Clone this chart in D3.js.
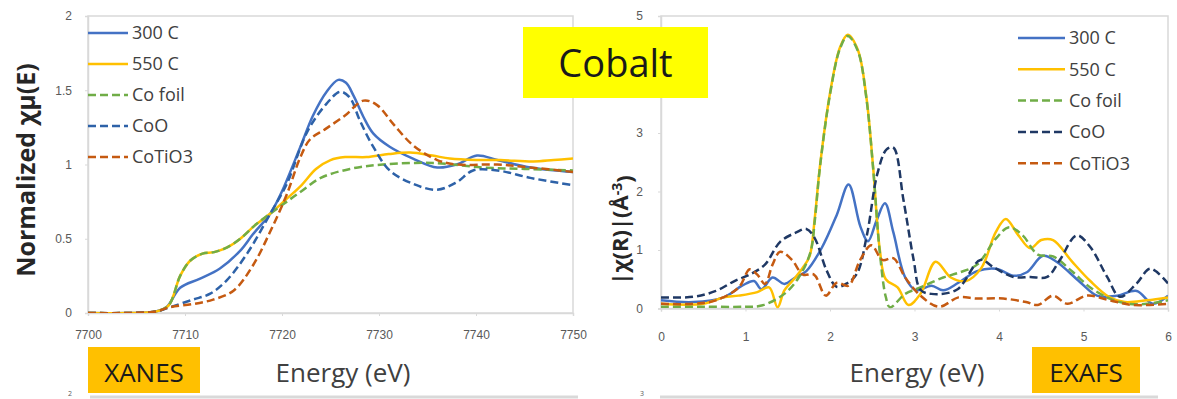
<!DOCTYPE html>
<html>
<head>
<meta charset="utf-8">
<script src="https://cdn.jsdelivr.net/npm/d3@7"></script>
<style>
  body { margin: 0; background: #fff; }
  svg { display: block; font-family: "Open Sans", sans-serif; }
</style>
</head>
<body>
<svg id="chart" width="1177" height="399"></svg>
<script>

// Series names, shared by both panels

var seriesNames = ["300 C", "550 C", "Co foil", "CoO", "CoTiO3"];

// XANES: normalized absorption vs energy (eV)

var xanes300 = [[7700,0],[7704,0],[7707,0.01],[7708.1,0.04],[7709.5,0.17],[7711.5,0.23],[7713.6,0.30],
  [7715.7,0.42],[7717,0.53],[7718.8,0.67],[7720,0.82],[7721.9,1.12],[7723.2,1.33],[7724.6,1.49],
  [7725.8,1.57],[7726.6,1.55],[7727.4,1.46],[7728.4,1.32],[7729.4,1.21],[7731.1,1.12],[7733.5,1.04],
  [7736,0.98],[7738,1.0],[7740.1,1.06],[7742.2,1.03],[7745.6,0.98],[7750,0.95]];
var xanes550 = [[7700,0],[7704,0],[7707,0.01],[7708.3,0.05],[7709.5,0.25],[7710.5,0.35],[7711.8,0.40],
  [7713,0.41],[7714.3,0.44],[7715.7,0.50],[7717.2,0.59],[7718.8,0.67],[7720.5,0.77],[7722,0.86],
  [7723.5,0.97],[7725,1.03],[7726.5,1.05],[7728.7,1.05],[7731,1.07],[7733.2,1.08],[7735.5,1.06],
  [7737.3,1.04],[7740,1.03],[7742.5,1.03],[7745.9,1.02],[7748,1.03],[7750,1.04]];
var xanesFoil = [[7700,0],[7704,0],[7707,0.01],[7708.3,0.05],[7709.5,0.25],[7710.5,0.35],[7711.8,0.40],
  [7713,0.41],[7714.3,0.44],[7715.7,0.50],[7717.2,0.59],[7718.8,0.67],[7720.5,0.75],[7722,0.82],
  [7724,0.91],[7727,0.97],[7730.4,1.0],[7735.6,1.01],[7740.7,0.98],[7745,0.97],[7750,0.96]];
var xanesCoO = [[7700,0],[7704,0],[7707,0.01],[7708.5,0.04],[7710.8,0.09],[7712.6,0.13],[7714.3,0.22],
  [7716.4,0.40],[7718.8,0.67],[7720.5,0.87],[7722.6,1.22],[7724.6,1.41],[7726,1.49],[7727,1.45],
  [7728,1.30],[7729.4,1.12],[7731.1,0.96],[7733.5,0.87],[7736,0.83],[7738,0.88],[7739.7,0.96],
  [7742.2,0.96],[7745.6,0.91],[7750,0.86]];
var xanesCoTiO3 = [[7700,0],[7704,0],[7707,0.01],[7708.5,0.04],[7710.8,0.06],[7712.9,0.09],[7715,0.15],
  [7717,0.32],[7718.8,0.55],[7720.5,0.80],[7721.9,1.05],[7722.9,1.17],[7724.5,1.24],[7726.5,1.33],
  [7728.4,1.43],[7729.8,1.40],[7731.5,1.27],[7733.5,1.13],[7736,1.03],[7738,1.0],[7742.2,1.0],
  [7745.6,0.98],[7750,0.95]];

// EXAFS: Fourier transform magnitude vs R

var exafs300 = [[0,0.14],[0.38,0.11],[0.74,0.19],[0.96,0.39],[1.1,0.47],[1.19,0.33],[1.32,0.53],[1.46,0.42],
  [1.59,0.53],[1.72,0.64],[1.9,1.03],[2.08,1.6],[2.22,2.12],[2.36,1.4],[2.45,1.15],[2.55,1.5],[2.65,1.8],
  [2.75,1.3],[2.89,0.53],[3.02,0.31],[3.2,0.39],[3.34,0.31],[3.52,0.44],[3.74,0.64],[3.97,0.68],[4.17,0.56],
  [4.33,0.62],[4.52,0.9],[4.68,0.8],[4.96,0.45],[5.16,0.22],[5.4,0.22],[5.63,0.3],[5.82,0.08],[6,0.22]];
var exafs550 = [[0,0.08],[0.5,0.08],[0.74,0.19],[0.92,0.22],[1.14,0.28],[1.28,0.36],[1.38,0.02],[1.46,0.31],
  [1.59,0.53],[1.68,0.7],[1.76,0.9],[1.82,1.55],[1.88,2.42],[2.0,3.68],[2.12,4.47],[2.21,4.68],[2.33,4.42],
  [2.43,3.62],[2.51,2.42],[2.59,1.0],[2.66,0.5],[2.8,0.36],[2.93,0.06],[3.07,0.25],[3.25,0.8],[3.43,0.53],
  [3.61,0.47],[3.79,0.69],[3.96,1.3],[4.08,1.53],[4.23,1.25],[4.37,1.03],[4.5,1.17],[4.64,1.17],[4.86,0.81],
  [5.08,0.47],[5.31,0.19],[5.49,0.11],[5.75,0.14],[6,0.19]];
var exafsFoil = [[0,0.03],[0.5,0.03],[1.0,0.03],[1.19,0.05],[1.46,0.25],[1.63,0.53],[1.77,0.97],[1.82,1.5],
  [1.88,2.4],[2.0,3.66],[2.12,4.45],[2.21,4.66],[2.33,4.4],[2.43,3.6],[2.51,2.4],[2.59,0.95],[2.66,0.2],
  [2.71,0.02],[2.89,0.25],[3.07,0.36],[3.34,0.53],[3.52,0.61],[3.74,0.75],[3.96,1.19],[4.12,1.39],[4.28,1.25],
  [4.46,0.92],[4.64,0.89],[4.86,0.64],[5.08,0.36],[5.31,0.17],[5.53,0.08],[5.75,0.08],[6,0.14]];
var exafsCoO = [[0,0.19],[0.38,0.2],[0.65,0.3],[0.87,0.47],[1.05,0.58],[1.23,0.75],[1.41,1.14],[1.6,1.3],
  [1.72,1.36],[1.82,1.2],[1.96,0.65],[2.08,0.37],[2.2,0.43],[2.32,0.6],[2.44,1.28],[2.56,2.3],[2.67,2.72],
  [2.75,2.75],[2.87,1.85],[2.99,0.83],[3.07,0.32],[3.2,0.25],[3.5,0.32],[3.78,0.83],[3.93,0.71],[4.17,0.54],
  [4.37,0.54],[4.57,0.54],[4.72,0.83],[4.92,1.25],[5.08,1.05],[5.28,0.54],[5.43,0.2],[5.63,0.43],[5.79,0.68],
  [6,0.43]];
var exafsCoTiO3 = [[0,0.08],[0.38,0.08],[0.65,0.14],[0.92,0.36],[1.05,0.67],[1.14,0.58],[1.23,0.42],[1.32,0.75],
  [1.41,0.97],[1.55,0.83],[1.68,0.58],[1.81,0.58],[1.95,0.22],[2.08,0.44],[2.22,0.39],[2.35,0.81],[2.49,1.08],
  [2.62,0.83],[2.75,0.86],[2.89,0.53],[3.07,0.22],[3.29,0.03],[3.52,0.19],[3.74,0.17],[4.05,0.17],[4.32,0.11],
  [4.46,0.06],[4.64,0.22],[4.81,0.08],[5.04,0.22],[5.31,0.14],[5.58,0.06],[6,0.08]];

// Axis ticks (the "4" on the EXAFS axis sits under the title box, so it is left out)

var xanesXTicks = [7700, 7710, 7720, 7730, 7740, 7750],
    xanesYTicks = [0, 0.5, 1, 1.5, 2],
    exafsXTicks = [0, 1, 2, 3, 4, 5, 6],
    exafsYTicks = [0, 1, 2, 3, 5];

// Line styles per series (left panel CoO is a lighter blue than the right one)

var styles = [
  { color: "#4472C4", dash: null },
  { color: "#FFC000", dash: null },
  { color: "#70AD47", dash: "8,4" },
  { color: "#2E62A8", dash: "8,4" },
  { color: "#C55A11", dash: "8,4" }
];

var svg = d3.select("#chart");

function panel(o) {
  var x = d3.scaleLinear().domain(o.xDomain).range([o.left, o.right]),
      y = d3.scaleLinear().domain(o.yDomain).range([o.bottom, o.top]);

  var g = svg.append("g");

  // plot area frame
  g.append("rect")
    .attr("x", o.left).attr("y", o.top)
    .attr("width", o.right - o.left).attr("height", o.bottom - o.top)
    .attr("fill", "none").attr("stroke", "#D9D9D9").attr("stroke-width", 1.5);

  var xAxis = g.append("g")
    .attr("transform", "translate(0," + o.bottom + ")")
    .call(d3.axisBottom(x).tickValues(o.xTicks).tickSize(3).tickPadding(o.xPad).tickFormat(d3.format("d")));
  var yAxis = g.append("g")
    .attr("transform", "translate(" + o.left + ",0)")
    .call(d3.axisLeft(y).tickValues(o.yTicks).tickSize(3).tickPadding(o.yPad).tickFormat(function(d) { return d; }));

  [xAxis, yAxis].forEach(function(a) {
    a.select(".domain").attr("stroke", "#D9D9D9").attr("stroke-width", 1.5);
    a.selectAll(".tick line").attr("stroke", "#D9D9D9");
    a.selectAll(".tick text").attr("fill", "#595959").style("font-size", "12px");
  });

  // lines, clipped to the plot area
  var clipId = "clip-" + o.name;
  svg.append("clipPath").attr("id", clipId)
    .append("rect")
    .attr("x", o.left).attr("y", o.top - 2)
    .attr("width", o.right - o.left).attr("height", o.bottom - o.top + 2);

  var line = d3.line()
    .x(function(d) { return x(d[0]); })
    .y(function(d) { return y(d[1]); })
    .curve(d3.curveCatmullRom.alpha(0.5));

  g.append("g").attr("clip-path", "url(#" + clipId + ")")
    .selectAll("path")
    .data(o.series)
    .enter().append("path")
    .attr("d", function(d) { return line(d); })
    .attr("fill", "none")
    .attr("stroke", function(d, i) { return o.styles[i].color; })
    .attr("stroke-width", 2.5)
    .attr("stroke-dasharray", function(d, i) { return o.styles[i].dash; });

  // legend
  var lg = g.append("g").selectAll(".legend")
    .data(seriesNames)
    .enter().append("g")
    .attr("class", "legend")
    .attr("transform", function(d, i) { return "translate(" + o.legendX + "," + (o.legendY + i * o.legendDy) + ")"; });

  lg.append("line")
    .attr("x1", 0).attr("x2", o.legendW)
    .attr("stroke", function(d, i) { return o.styles[i].color; })
    .attr("stroke-width", 2.5)
    .attr("stroke-dasharray", function(d, i) { return o.styles[i].dash; });

  lg.append("text")
    .attr("x", o.legendW + 4)
    .attr("dy", "0.36em")
    .attr("fill", "#404040")
    .style("font-size", "18px")
    .text(function(d) { return d; });

  // x axis title
  g.append("text")
    .attr("x", o.xTitleX).attr("y", 382)
    .attr("text-anchor", "middle")
    .attr("fill", "#404040")
    .style("font-size", "26px")
    .text("Energy (eV)");

  return g;
}

panel({
  name: "xanes",
  left: 88, right: 573, top: 16, bottom: 313,
  xDomain: [7700, 7750], yDomain: [0, 2],
  xTicks: xanesXTicks, yTicks: xanesYTicks,
  xPad: 14, yPad: 13,
  series: [xanes300, xanes550, xanesFoil, xanesCoO, xanesCoTiO3],
  styles: styles,
  legendX: 88, legendY: 33, legendDy: 31, legendW: 40,
  xTitleX: 343
});

var exafsStyles = styles.map(function(s, i) { return i === 3 ? { color: "#1F3864", dash: s.dash } : s; });

panel({
  name: "exafs",
  left: 661, right: 1168, top: 16, bottom: 308.5,
  xDomain: [0, 6], yDomain: [0, 5],
  xTicks: exafsXTicks, yTicks: exafsYTicks,
  xPad: 21, yPad: 15,
  series: [exafs300, exafs550, exafsFoil, exafsCoO, exafsCoTiO3],
  styles: exafsStyles,
  legendX: 1018, legendY: 38, legendDy: 31.3, legendW: 47,
  xTitleX: 917
});

// y axis titles

svg.append("text")
  .attr("transform", "translate(35,170) rotate(-90)")
  .attr("text-anchor", "middle")
  .attr("fill", "#262626")
  .style("font-size", "25px").style("font-weight", "bold")
  .text("Normalized \u03c7\u03bc(E)");

var yt = svg.append("text")
  .attr("transform", "translate(628,230) rotate(-90)")
  .attr("text-anchor", "middle")
  .attr("fill", "#262626")
  .style("font-size", "22px").style("font-weight", "bold");
yt.append("tspan").text("|\u03c7(R)|(\u00c5");
yt.append("tspan").attr("dy", "-0.45em").style("font-size", "14px").text("-3");
yt.append("tspan").attr("dy", "0.45em").text(")");

// Labels on coloured boxes

function tag(x, y, w, h, fill, label, size, baseline) {
  svg.append("rect").attr("x", x).attr("y", y).attr("width", w).attr("height", h).attr("fill", fill);
  svg.append("text")
    .attr("x", x + w / 2).attr("y", baseline)
    .attr("text-anchor", "middle")
    .attr("fill", "#1a1a1a")
    .style("font-size", size + "px")
    .text(label);
}

tag(523, 27, 185, 71, "#FFFF00", "Cobalt", 38, 77);
tag(88, 347, 112, 46, "#FFC000", "XANES", 26, 382);
tag(1032, 347, 108, 46, "#FFC000", "EXAFS", 26, 382);

// top edge of the next row of panels
svg.append("line").attr("x1", 90).attr("x2", 578).attr("y1", 397).attr("y2", 397)
  .attr("stroke", "#D9D9D9").attr("stroke-width", 3);
svg.append("line").attr("x1", 660).attr("x2", 1158).attr("y1", 397).attr("y2", 397)
  .attr("stroke", "#D9D9D9").attr("stroke-width", 3);
svg.append("text").attr("x", 72).attr("y", 396).attr("text-anchor", "end")
  .attr("fill", "#595959").style("font-size", "7px").text("2");
svg.append("text").attr("x", 644).attr("y", 396).attr("text-anchor", "end")
  .attr("fill", "#595959").style("font-size", "7px").text("3");

</script>
</body>
</html>
